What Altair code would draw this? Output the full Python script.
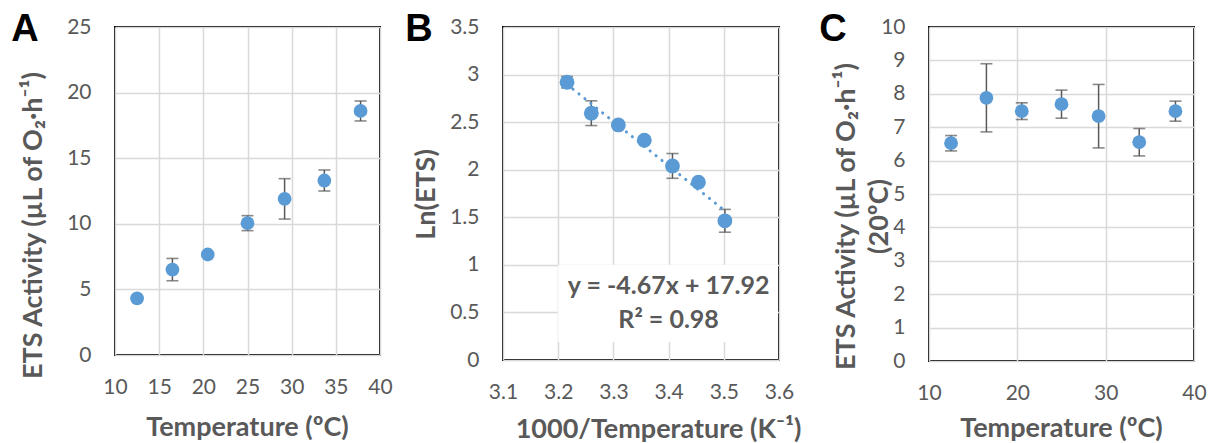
import altair as alt
import pandas as pd

# ---------------- data ----------------
temp_a = [12.5, 16.5, 20.5, 25.0, 29.2, 33.7, 37.8]
ets_a = [4.32, 6.51, 7.66, 10.05, 11.9, 13.3, 18.6]
err_a = [0.15, 0.85, 0.15, 0.57, 1.54, 0.8, 0.76]

inv_t_b = [3.216, 3.260, 3.309, 3.356, 3.407, 3.454, 3.502]
ln_ets_b = [2.919, 2.594, 2.471, 2.31, 2.04, 1.869, 1.463]
err_b = [0.06, 0.13, 0.03, 0.03, 0.13, 0.03, 0.12]
eq_lines = ["y = -4.67x + 17.92", "R\u00b2 = 0.98"]

temp_c = [12.5, 16.5, 20.5, 25.0, 29.2, 33.8, 37.9]
ets20_c = [6.52, 7.88, 7.48, 7.69, 7.33, 6.55, 7.48]
err_c = [0.23, 1.02, 0.25, 0.42, 0.95, 0.41, 0.3]

FONT = "Lato"
LETTER_FONT = "Liberation Sans"
GREY = "#595959"
BLUE = "#5b9bd5"
GRID = "#d9d9d9"


def frame(x, y, e):
    return pd.DataFrame({"x": x, "y": y,
                         "lo": [a - b for a, b in zip(y, e)],
                         "hi": [a + b for a, b in zip(y, e)]})


def axis(values, title, title_x, title_y, vertical):
    kw = dict(values=values, title=title, grid=True, gridColor=GRID, gridWidth=1.5,
              domain=False, ticks=False, tickSize=0, labelFont=FONT,
              labelFontSize=21, labelColor=GREY, labelPadding=24 if vertical else 21,
              titleFont=FONT, titleFontSize=27, titleFontWeight="bold",
              titleColor=GREY, titleX=title_x, titleY=title_y,
              titleAlign="center", titleBaseline="middle", labelOverlap=False,
              labelFlush=False, format=".2~f", titleLineHeight=33)
    if vertical:
        kw["titleAngle"] = 270
    return alt.Axis(**kw)


def panel(df, letter, xdom, xvals, ydom, yvals, xtitle, ytitle, w, h,
          xt, yt, lab, size, extra=None):
    xs = alt.Scale(domain=xdom, nice=False, zero=False)
    ys = alt.Scale(domain=ydom, nice=False, zero=False)
    xa = axis(xvals, xtitle, xt[0], xt[1], False)
    ya = axis(yvals, ytitle, yt[0], yt[1], True)
    base = alt.Chart(df)
    rule = base.mark_rule(color=GREY, strokeWidth=1.5).encode(
        x=alt.X("x:Q", scale=xs, axis=xa), y=alt.Y("lo:Q", scale=ys, axis=ya), y2="hi:Q")
    cap_lo = base.mark_tick(color=GREY, orient="horizontal", size=12, thickness=1.6).encode(
        x=alt.X("x:Q", scale=xs, axis=xa), y=alt.Y("lo:Q", scale=ys, axis=ya))
    cap_hi = base.mark_tick(color=GREY, orient="horizontal", size=12, thickness=1.6).encode(
        x=alt.X("x:Q", scale=xs, axis=xa), y=alt.Y("hi:Q", scale=ys, axis=ya))
    pts = base.mark_circle(color=BLUE, opacity=1, size=size).encode(
        x=alt.X("x:Q", scale=xs, axis=xa), y=alt.Y("y:Q", scale=ys, axis=ya))
    label = alt.Chart(pd.DataFrame({"t": [letter]})).mark_text(
        font=LETTER_FONT, fontSize=38, fontWeight="bold", color="black",
        align="center", baseline="middle").encode(
        text="t:N", x=alt.value(lab[0]), y=alt.value(lab[1]))
    layers = [rule, cap_lo, cap_hi, pts]
    if extra:
        layers += [e(xs, ys, xa, ya) for e in extra]
    layers.append(label)
    return alt.layer(*layers).properties(
        width=w, height=h,
        view=alt.ViewBackground(stroke="black", strokeWidth=2))


dfa = frame(temp_a, ets_a, err_a)
dfb = frame(inv_t_b, ln_ets_b, err_b)
dfc = frame(temp_c, ets20_c, err_c)


# Panel B extras: regression line and equation box
def trend(xs, ys, xa, ya):
    return alt.Chart(dfb).transform_regression("x", "y").mark_line(
        color=BLUE, strokeWidth=3, strokeDash=[0.1, 7.5], strokeCap="round").encode(
        x=alt.X("x:Q", scale=xs, axis=xa), y=alt.Y("y:Q", scale=ys, axis=ya))


box_df = pd.DataFrame({"x0": [3.2], "x1": [3.598], "y0": [0.19], "y1": [1.0]})


def box(xs, ys, xa, ya):
    return alt.Chart(box_df).mark_rect(color="white").encode(
        x=alt.X("x0:Q", scale=xs, axis=xa), x2="x1:Q",
        y=alt.Y("y0:Q", scale=ys, axis=ya), y2="y1:Q")


eq_df = pd.DataFrame({"t": eq_lines, "x": [3.4, 3.4], "y": [0.78, 0.42]})


def eq(xs, ys, xa, ya):
    return alt.Chart(eq_df).mark_text(font=FONT, fontSize=25, fontWeight="bold",
                                      color=GREY, align="center", baseline="middle").encode(
        text="t:N", x=alt.X("x:Q", scale=xs, axis=xa), y=alt.Y("y:Q", scale=ys, axis=ya))


A = panel(dfa, "A", [10, 40], [10, 15, 20, 25, 30, 35, 40], [0, 25], [0, 5, 10, 15, 20, 25],
          "Temperature (\u00baC)", "ETS Activity (\u00b5L of O\u2082\u00b7h\u207b\u00b9)",
          265, 328, (132, 72), (-82, 198), (-90, 3), 190)
B = panel(dfb, "B", [3.1, 3.6], [3.1, 3.2, 3.3, 3.4, 3.5, 3.6],
          [0, 3.5], [0, 0.5, 1, 1.5, 2, 2.5, 3, 3.5],
          "1000/Temperature (K\u207b\u00b9)", "Ln(ETS)",
          276, 333, (155, 69), (-77, 167), (-84, 3), 220,
          extra=[box, eq, trend])
C = panel(dfc, "C", [10, 40], [10, 20, 30, 40], [0, 10], list(range(0, 11)),
          "Temperature (\u00baC)",
          ["ETS Activity (\u00b5L of O\u2082\u00b7h\u207b\u00b9)", "(20\u00baC)"],
          265, 334, (132, 67), (-83, 189), (-96, 3), 190)

spacer1 = alt.Chart(pd.DataFrame({"v": [0]})).mark_point(opacity=0).encode(
    x=alt.X("v:Q", axis=None), y=alt.Y("v:Q", axis=None)).properties(
    width=123, height=10, view=alt.ViewBackground(stroke=None))
spacer2 = spacer1.properties(width=150)

chart = alt.hconcat(A, spacer1, B, spacer2, C, spacing=0, bounds="flush").properties(
    padding={"left": 2, "top": 2, "right": 2, "bottom": 0}
).configure_view(stroke=None)

chart.save("out.html", embed_options={"renderer": "svg", "actions": False})
